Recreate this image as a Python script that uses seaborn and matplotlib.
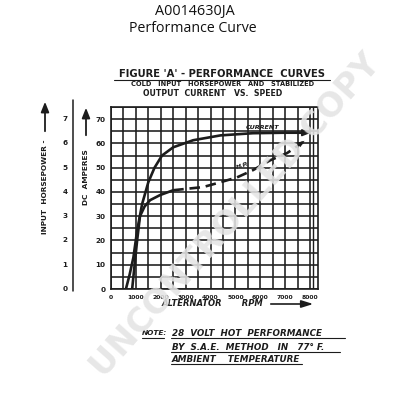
import matplotlib
matplotlib.use("Agg")
import matplotlib.pyplot as plt
import matplotlib.patches as mpatches
from matplotlib.transforms import blended_transform_factory
import numpy as np
import pandas as pd
import seaborn as sns

# ---------------- data ----------------
rpm_current = [600, 750, 900, 1050, 1250, 1500, 1750, 2050, 2500, 3300, 4400, 5700, 7000, 7900]
amps_current = [0, 6, 13, 24, 35, 44, 50, 55, 58.4, 61.3, 63.3, 64.2, 64.4, 64.4]

rpm_hp = [850, 950, 1050, 1165, 1350, 1570, 1970, 2500, 3700, 4400, 5065, 5710, 6390, 7075, 7720]
hp = [0.0, 1.0, 2.0, 3.0, 3.4, 3.66, 3.87, 4.07, 4.2, 4.4, 4.6, 4.9, 5.3, 5.6, 6.05]

amp_ticks = [0, 10, 20, 30, 40, 50, 60, 70]
hp_ticks = [0, 1, 2, 3, 4, 5, 6, 7]
rpm_ticks = [0, 1000, 2000, 3000, 4000, 5000, 6000, 7000, 8000]
rpm_tick_labels = ["0", "1000", "2000", "3000", "4000", "5000", "6000", "7000", "8000"]

title_lines = ["A0014630JA", "Performance Curve"]
fig_title = "FIGURE 'A' - PERFORMANCE  CURVES"
fig_sub1 = "COLD   INPUT   HORSEPOWER   AND   STABILIZED"
fig_sub2 = "OUTPUT  CURRENT   VS.  SPEED"
note_lines = ["28  VOLT  HOT  PERFORMANCE", "BY  S.A.E.  METHOD   IN   77° F.", "AMBIENT    TEMPERATURE"]

# ---------------- figure ----------------
sns.set_style("white")
plt.rcParams['font.family'] = ['DejaVu Sans']
W, H = 393, 400
fig = plt.figure(figsize=(W / 100, H / 100), dpi=100)
ink = "#1c1c1c"

def fx(px):
    return px / W

def fy(py):
    return 1 - py / H

ax = fig.add_axes([fx(111), fy(289), (318 - 111) / W, (289 - 107) / H])
ax.set_xlim(0, 8320)
ax.set_ylim(0, 75)

# grid
for x in range(0, 8001, 500):
    ax.axvline(x, color=ink, lw=1.15, zorder=1)
ax.axvline(8130, color=ink, lw=1.0, zorder=1)
for y in range(0, 76, 5):
    ax.axhline(y, color=ink, lw=1.15, zorder=1)
for s in ax.spines.values():
    s.set_color(ink)
    s.set_linewidth(1.2)

# current curve
df_c = pd.DataFrame({"rpm": rpm_current, "amps": amps_current})
sns.lineplot(data=df_c, x="rpm", y="amps", ax=ax, color=ink, lw=1.9, zorder=3, sort=False)
ax.annotate("", xy=(rpm_current[-1] + 250, amps_current[-1]), xytext=(rpm_current[-1] - 200, amps_current[-1]),
            arrowprops=dict(arrowstyle="-|>,head_length=0.5,head_width=0.2", color=ink, lw=1.2), zorder=4)

# horsepower curve on its own (aligned) scale
ax_hp = ax.twinx()
ax_hp.set_ylim(0, 7.5)
ax_hp.axis("off")
df_h = pd.DataFrame({"rpm": rpm_hp, "hp": hp})
solid = df_h[df_h.rpm <= 2500]
dashed = df_h[df_h.rpm >= 2500]
sns.lineplot(data=solid, x="rpm", y="hp", ax=ax_hp, color=ink, lw=1.9, zorder=3, sort=False)
sns.lineplot(data=dashed, x="rpm", y="hp", ax=ax_hp, color=ink, lw=1.9, zorder=3, sort=False,
             dashes=False, linestyle=(0, (4, 2.2)))
ax_hp.annotate("", xy=(rpm_hp[-1] + 150, hp[-1] + 0.12), xytext=(rpm_hp[-2], hp[-2]),
               arrowprops=dict(arrowstyle="-|>,head_length=0.5,head_width=0.2", color=ink, lw=0.01), zorder=4)

ax.text(5400, 65.8, "CURRENT", fontsize=4.6, fontweight="bold", fontstyle="italic", color=ink, zorder=4)
ax_hp.text(5000, 4.95, "H.P.", fontsize=4.6, fontweight="bold", fontstyle="italic", color=ink,
           rotation=18, zorder=4)

# amps / rpm ticks
ax.set_yticks(amp_ticks)
ax.set_yticklabels([str(v) for v in amp_ticks], fontsize=5.2, fontweight="bold", color=ink)
ax.set_xticks(rpm_ticks)
ax.set_xticklabels(rpm_tick_labels, fontsize=4.4, fontweight="bold", color=ink)
ax.tick_params(axis="both", length=0, pad=4)
ax.set_xlabel("")
ax.set_ylabel("")

# horsepower scale (separate axis line to the left)
tr_hp = blended_transform_factory(fig.transFigure, ax_hp.transData)
for v in hp_ticks:
    fig.text(fx(65), v, str(v), transform=tr_hp, fontsize=5.2, fontweight="bold", color=ink,
             ha="center", va="center")
fig.add_artist(plt.Line2D([fx(73), fx(73)], [fy(100), fy(291)], color=ink, lw=1.1))

# axis captions with arrows
fig.text(fx(45), fy(187), "INPUT  HORSEPOWER -", rotation=90, fontsize=5.3, fontweight="bold",
         color=ink, ha="center", va="center")
fig.text(fx(86), fy(177), "DC  AMPERES", rotation=90, fontsize=5.3, fontweight="bold",
         color=ink, ha="center", va="center")
for xx, y0, y1 in [(45, 134, 99), (86, 138, 105)]:
    fig.add_artist(mpatches.FancyArrowPatch((fx(xx), fy(y0)), (fx(xx), fy(y1)),
                   transform=fig.transFigure, arrowstyle="-|>,head_length=6,head_width=2.4",
                   color=ink, lw=1.3))

fig.text(fx(212), fy(304), "ALTERNATOR       RPM", fontsize=6.0, fontweight="bold", fontstyle="italic",
         color=ink, ha="center", va="center")
fig.add_artist(mpatches.FancyArrowPatch((fx(268), fy(304)), (fx(316), fy(304)),
               transform=fig.transFigure, arrowstyle="-|>,head_length=7,head_width=2.2",
               color=ink, lw=1.2))

# titles
fig.text(0.495, fy(11), title_lines[0], fontsize=10.4, family="Open Sans", color="#111111", ha="center", va="center")
fig.text(0.49, fy(28), title_lines[1], fontsize=10.2, family="Open Sans", color="#111111", ha="center", va="center")

fig.text(fx(222), fy(74), fig_title, fontsize=7.2, fontweight="bold", color=ink, ha="center", va="center")
fig.add_artist(plt.Line2D([fx(114), fx(330)], [fy(79.5), fy(79.5)], color=ink, lw=0.8))
fig.text(fx(223), fy(84.5), fig_sub1, fontsize=4.8, fontweight="bold", color=ink, ha="center", va="center")
fig.text(fx(213), fy(93.5), fig_sub2, fontsize=5.6, fontweight="bold", color=ink, ha="center", va="center")

# note
fig.text(fx(142), fy(333), "NOTE:", fontsize=5.3, fontweight="bold", fontstyle="italic", color=ink,
         ha="left", va="center")
fig.add_artist(plt.Line2D([fx(142), fx(164)], [fy(337.5), fy(337.5)], color=ink, lw=0.8))
for txt, yy in zip(note_lines, [333, 347, 359.5]):
    fig.text(fx(172), fy(yy), txt, fontsize=6.3, fontweight="bold", fontstyle="italic", color=ink,
             ha="left", va="center")
x_ends = [345, 340, 302]
for yy, xe in zip([337.5, 351.5, 364], x_ends):
    fig.add_artist(plt.Line2D([fx(171), fx(xe)], [fy(yy), fy(yy)], color=ink, lw=0.8))

# watermark
fig.text(fx(236), fy(216), "UNCONTROLLED COPY", rotation=48.5, fontsize=24, fontweight="bold",
         color="#e4e4e4", alpha=0.88, ha="center", va="center", zorder=20)

fig.savefig("out.png", dpi=100)
